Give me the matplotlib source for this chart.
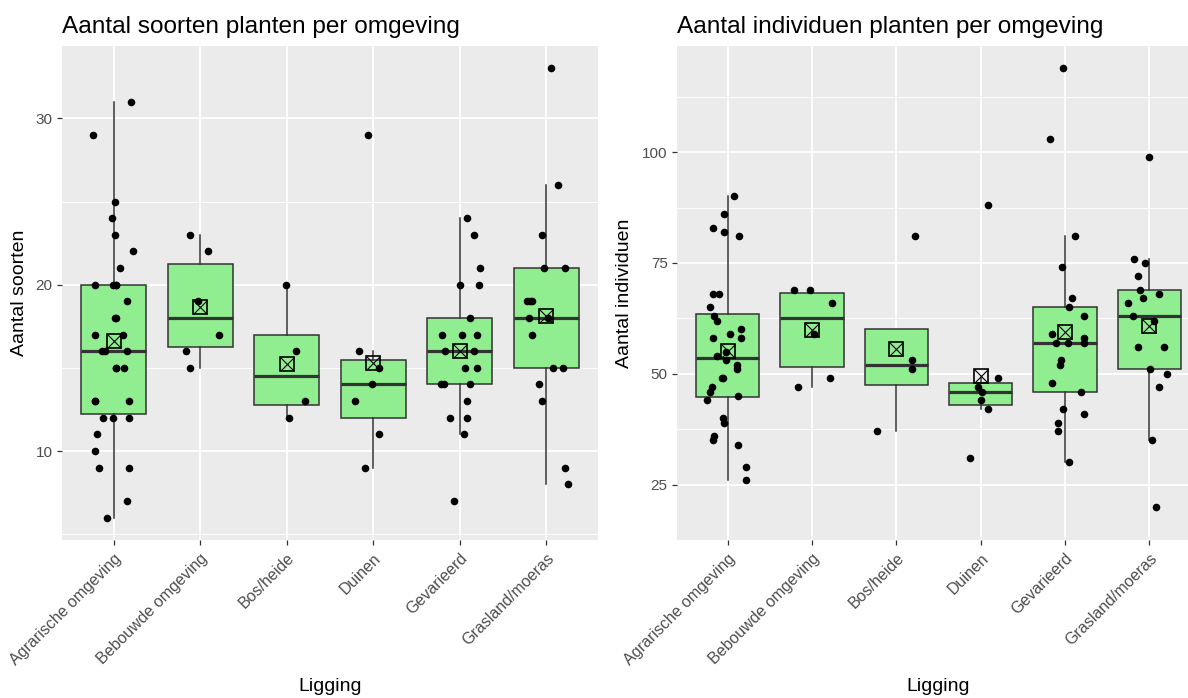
import numpy as np
import matplotlib
matplotlib.use("Agg")
import matplotlib.pyplot as plt

plt.rcParams['font.family'] = ['Liberation Sans', 'DejaVu Sans']

liggingen = ['Agrarische omgeving', 'Bebouwde omgeving', 'Bos/heide',
             'Duinen', 'Gevarieerd', 'Grasland/moeras']

# aantal soorten per locatie
soorten_agrarisch = [31, 29, 25, 24, 23, 22, 21, 20, 20, 20, 19, 18, 18, 17, 17, 16, 16,
                     16, 15, 15, 13, 13, 12, 12, 12, 11, 10, 9, 9, 7, 6, 13, 15, 20]
soorten_bebouwd = [23, 22, 19, 17, 16, 15]
soorten_bosheide = [20, 16, 13, 12]
soorten_duinen = [29, 16, 15, 14, 13, 11, 9]
soorten_gevarieerd = [24, 23, 21, 20, 20, 18, 17, 17, 17, 16, 16, 15, 15, 14, 14, 14,
                      13, 12, 12, 11, 7]
soorten_grasland = [33, 26, 23, 21, 21, 19, 19, 19, 18, 18, 17, 15, 15, 14, 13, 9, 8]

# aantal individuen per locatie
indiv_agrarisch = [90, 86, 83, 82, 81, 68, 68, 65, 63, 62, 60, 59, 58, 58, 55, 54, 53,
                   52, 51, 49, 49, 47, 46, 45, 44, 40, 39, 36, 35, 34, 29, 26]
indiv_bebouwd = [69, 69, 66, 59, 49, 47]
indiv_bosheide = [81, 53, 51, 37]
indiv_duinen = [88, 49, 47, 46, 44, 42, 31]
indiv_gevarieerd = [119, 103, 81, 74, 67, 65, 63, 59, 57, 57, 58, 57, 53, 52, 48, 46,
                    42, 41, 39, 37, 30]
indiv_grasland = [99, 76, 75, 72, 69, 67, 68, 66, 63, 62, 56, 56, 51, 50, 47, 35, 20]

# horizontale jitter van de punten (in categorie-eenheden)
jit_s_agrarisch = [0.20, -0.24, 0.01, -0.02, 0.01, 0.22, 0.07, -0.22, -0.01, 0.03, 0.15,
                   0.01, 0.03, -0.22, 0.11, -0.14, -0.10, 0.15, 0.03, 0.12, -0.22, 0.18,
                   -0.13, -0.01, 0.18, -0.19, -0.22, -0.17, 0.17, 0.15, -0.08,
                   -0.22, 0.03, 0.03]
jit_s_bebouwd = [-0.12, 0.09, -0.03, 0.22, -0.17, -0.12]
jit_s_bosheide = [-0.01, 0.11, 0.21, 0.03]
jit_s_duinen = [-0.06, -0.17, 0.07, -0.01, -0.21, 0.07, -0.10]
jit_s_gevarieerd = [0.08, 0.17, 0.23, 0.0, 0.22, 0.12, -0.20, 0.03, 0.20, -0.17, 0.17,
                    0.06, 0.20, -0.22, -0.18, 0.12, 0.08, -0.11, 0.09, 0.05, -0.06]
jit_s_grasland = [0.06, 0.14, -0.05, -0.03, 0.22, -0.22, -0.19, -0.16, -0.20, 0.02,
                  -0.16, 0.08, 0.19, -0.08, -0.05, 0.22, 0.25]

jit_i_agrarisch = [0.07, -0.04, -0.17, -0.04, 0.13, -0.17, -0.10, -0.21, -0.16, -0.13,
                   0.16, 0.03, -0.17, 0.16, -0.02, -0.12, -0.02, 0.11, 0.11, -0.07,
                   -0.05, -0.19, -0.21, 0.12, -0.24, -0.06, -0.04, -0.16, -0.17, 0.12,
                   0.22, 0.22]
jit_i_bebouwd = [-0.21, -0.02, 0.24, 0.03, 0.21, -0.16]
jit_i_bosheide = [0.22, 0.19, 0.18, -0.23]
jit_i_duinen = [0.09, 0.21, -0.03, 0.02, 0.0, 0.09, -0.13]
jit_i_gevarieerd = [-0.02, -0.18, 0.12, -0.04, 0.08, 0.05, 0.22, -0.15, -0.11, 0.03,
                    0.22, 0.22, -0.05, -0.06, -0.16, 0.19, -0.02, 0.22, -0.08, -0.08,
                    0.05]
jit_i_grasland = [0.0, -0.18, -0.05, -0.13, -0.11, -0.08, 0.11, -0.25, -0.19, 0.06,
                  -0.13, 0.17, 0.01, 0.21, 0.11, 0.03, 0.08]

soorten = [soorten_agrarisch, soorten_bebouwd, soorten_bosheide,
           soorten_duinen, soorten_gevarieerd, soorten_grasland]
individuen = [indiv_agrarisch, indiv_bebouwd, indiv_bosheide,
              indiv_duinen, indiv_gevarieerd, indiv_grasland]
jit_soorten = [jit_s_agrarisch, jit_s_bebouwd, jit_s_bosheide,
               jit_s_duinen, jit_s_gevarieerd, jit_s_grasland]
jit_individuen = [jit_i_agrarisch, jit_i_bebouwd, jit_i_bosheide,
                  jit_i_duinen, jit_i_gevarieerd, jit_i_grasland]

BG = '#EBEBEB'
DARK = '#333333'
GREEN = '#90EE90'


def teken_paneel(ax, groepen, jitter, titel, ylabel, major, minor, ylab_x):
    pos = np.arange(1, len(groepen) + 1)
    ax.set_facecolor(BG)
    for s in ax.spines.values():
        s.set_visible(False)

    ax.boxplot(groepen, positions=pos, widths=0.75, patch_artist=True,
               showfliers=False, showcaps=False, whis=1.5,
               boxprops=dict(facecolor=GREEN, edgecolor=DARK, linewidth=1.1),
               medianprops=dict(color=DARK, linewidth=2.3),
               whiskerprops=dict(color=DARK, linewidth=1.1), zorder=2)

    for i, (vals, jit) in enumerate(zip(groepen, jitter)):
        x = pos[i] + np.array(jit)
        ax.scatter(x, vals, s=30, color='black', linewidths=0, zorder=3)

    means = [np.mean(v) for v in groepen]
    ax.plot(pos, means, ls='none', marker='s', ms=10, mfc='none', mec='black',
            mew=1.2, zorder=4)
    ax.plot(pos, means, ls='none', marker='x', ms=9.5, mec='black', mew=0.8, zorder=4)

    lo = min(min(v) for v in groepen)
    hi = max(max(v) for v in groepen)
    pad = 0.05 * (hi - lo)
    ax.set_ylim(lo - pad, hi + pad)
    ax.set_xlim(0.4, len(groepen) + 0.6)

    ax.set_yticks(major)
    ax.set_yticks(minor, minor=True)
    ax.set_xticks(pos)
    ax.set_xticklabels(liggingen, rotation=45, ha='right', va='top',
                       rotation_mode='anchor', fontsize=11.5, color='#4D4D4D')
    ax.tick_params(axis='y', which='major', labelsize=11, labelcolor='#4D4D4D',
                   color=DARK, length=3.7, width=0.9, pad=3)
    ax.tick_params(axis='x', which='major', color=DARK, length=3.7, width=0.9, pad=4)
    ax.tick_params(axis='y', which='minor', length=0)

    ax.grid(True, which='major', color='white', linewidth=1.3, zorder=0)
    ax.grid(True, which='minor', axis='y', color='white', linewidth=0.65, zorder=0)
    ax.set_axisbelow(True)

    ax.set_title(titel, loc='left', fontsize=17.6, pad=9)
    ax.set_xlabel('Ligging', fontsize=14)
    ax.set_ylabel(ylabel, fontsize=14)
    ax.xaxis.set_label_coords(0.5, -0.28)
    ax.yaxis.set_label_coords(ylab_x, 0.5)


fig = plt.figure(figsize=(11.88, 6.98), dpi=100)
ax1 = fig.add_axes([62 / 1188, 158 / 698, 536 / 1188, 494 / 698])
ax2 = fig.add_axes([677 / 1188, 158 / 698, 523 / 1188, 494 / 698])

teken_paneel(ax1, soorten, jit_soorten, 'Aantal soorten planten per omgeving',
             'Aantal soorten', [10, 20, 30], [5, 15, 25], -0.064)
teken_paneel(ax2, individuen, jit_individuen, 'Aantal individuen planten per omgeving',
             'Aantal individuen', [25, 50, 75, 100], [12.5, 37.5, 62.5, 87.5, 112.5], -0.084)

fig.savefig('out.png', dpi=100, facecolor='white')
